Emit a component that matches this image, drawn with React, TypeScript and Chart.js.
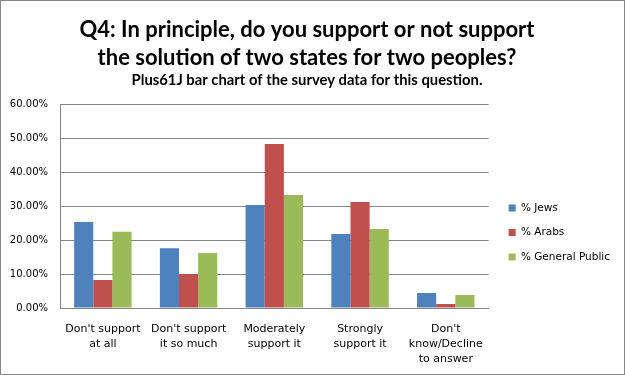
import React, { useEffect, useRef } from 'react';
import { Chart, registerables } from 'chart.js';

Chart.register(...registerables);

const titleLines = [
  'Q4: In principle, do you support or not support',
  'the solution of two states for two peoples?',
];
const subtitleText = 'Plus61J bar chart of the survey data for this question.';

const categories = [
  ["Don't support", 'at all'],
  ["Don't support", 'it so much'],
  ['Moderately', 'support it'],
  ['Strongly', 'support it'],
  ["Don't", 'know/Decline', 'to answer'],
];

const seriesNames = ['% Jews', '% Arabs', '% General Public'];
const jews = [25.3, 17.6, 30.3, 21.8, 4.4];
const arabs = [8.2, 10.0, 48.2, 31.2, 1.2];
const generalPublic = [22.4, 16.2, 33.2, 23.2, 3.8];
const seriesColors = ['#4F81BD', '#C0504D', '#9BBB59'];

const yMin = 0;
const yMax = 60;
const yStep = 10;

const GRID = '#868686';

const framePlugin = {
  id: 'frame',
  beforeDraw(chart: any) {
    const { ctx, width, height } = chart;
    ctx.save();
    ctx.fillStyle = '#ffffff';
    ctx.fillRect(0, 0, width, height);
    ctx.restore();
  },
  afterDraw(chart: any) {
    const { ctx, width, height } = chart;
    ctx.save();
    ctx.strokeStyle = GRID;
    ctx.lineWidth = 1;
    ctx.strokeRect(0.5, 0.5, width - 1, height - 1);
    ctx.restore();
  },
};

const legendShiftPlugin = {
  id: 'legendShift',
  afterLayout(chart: any) {
    const lg = chart.legend;
    if (!lg) return;
    const dx = 6;
    const dy = 26.5;
    lg.left += dx;
    lg.right += dx;
    lg.top += dy;
    lg.bottom += dy;
  },
};

export default function App() {
  const canvasRef = useRef<HTMLCanvasElement | null>(null);

  useEffect(() => {
    const canvas = canvasRef.current;
    if (!canvas) return;
    const datasetsValues = [jews, arabs, generalPublic];
    const chart = new Chart(canvas, {
      type: 'bar',
      data: {
        labels: categories,
        datasets: datasetsValues.map((vals, i) => ({
          label: seriesNames[i],
          data: vals,
          backgroundColor: seriesColors[i],
          borderWidth: 0,
          categoryPercentage: 0.67,
          barPercentage: 1,
        })),
      },
      options: {
        responsive: false,
        animation: false,
        devicePixelRatio: 1,
        events: [],
        layout: { padding: { left: 0, right: 11, top: 0, bottom: 0 } },
        plugins: {
          title: {
            display: true,
            text: titleLines,
            color: '#000000',
            font: { family: 'Lato', size: 22, weight: 'bold', lineHeight: '28px' },
            padding: { top: 16, bottom: 0 },
          },
          subtitle: {
            display: true,
            text: subtitleText,
            color: '#000000',
            font: { family: 'Lato', size: 14.8, weight: 'bold', lineHeight: '16px' },
            padding: { top: 0, bottom: 16 },
          },
          legend: {
            display: true,
            position: 'right',
            fullSize: false,
            labels: {
              boxWidth: 7,
              boxHeight: 7,
              padding: 14,
              color: '#000000',
              font: { family: 'DejaVu Sans', size: 10.5 },
            },
          },
          tooltip: { enabled: false },
        },
        scales: {
          x: {
            grid: { display: false },
            border: { display: true, color: GRID, width: 1 },
            ticks: {
              color: '#000000',
              font: { family: 'DejaVu Sans', size: 11, lineHeight: '15px' },
              padding: 6,
              maxRotation: 0,
              autoSkip: false,
            },
            afterFit(scale: any) {
              scale.height = 67;
            },
          },
          y: {
            min: yMin,
            max: yMax,
            grid: { color: GRID, lineWidth: 1, drawTicks: false },
            border: { display: true, color: GRID, width: 1 },
            ticks: {
              stepSize: yStep,
              color: '#000000',
              font: { family: 'DejaVu Sans', size: 10 },
              padding: 12,
              callback: (v: any) => Number(v).toFixed(2) + '%',
            },
            afterFit(scale: any) {
              scale.width = 60;
            },
          },
        },
      },
      plugins: [framePlugin, legendShiftPlugin],
    } as any);
    return () => chart.destroy();
  }, []);

  return (
    <div style={{ position: 'absolute', left: 0, top: 0, width: 625, height: 375 }}>
      <canvas ref={canvasRef} width={625} height={375} style={{ display: 'block' }} />
    </div>
  );
}
